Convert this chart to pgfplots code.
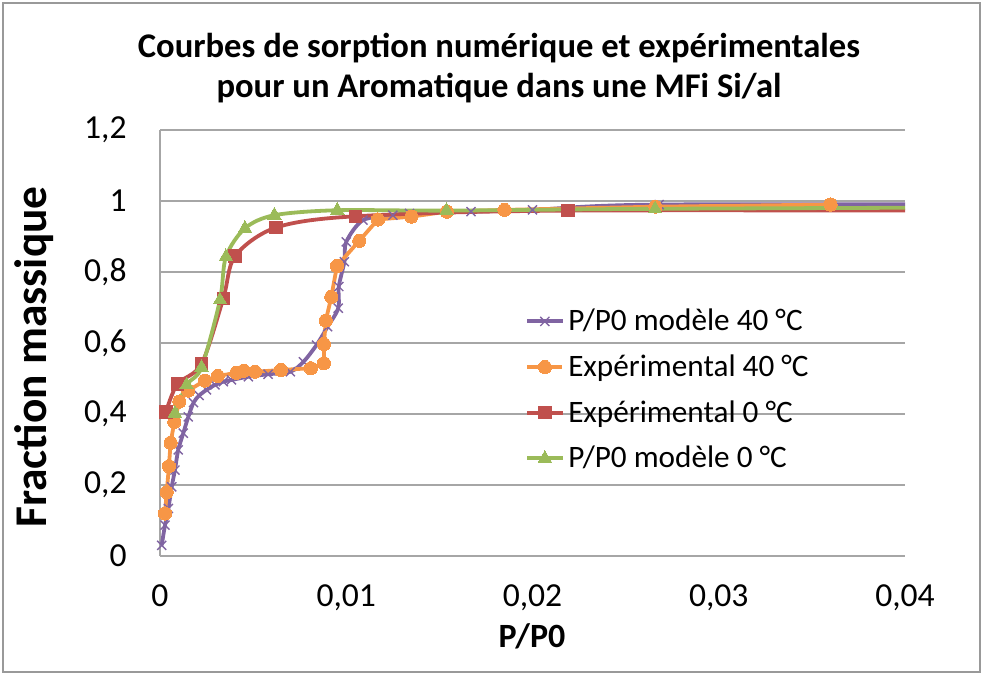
\documentclass[border=0pt]{standalone}
\usepackage{fontspec}
\setmainfont{Carlito}
\usepackage{pgfplots}
\pgfplotsset{compat=1.18}
\definecolor{cpurple}{HTML}{8064A2}
\definecolor{corange}{HTML}{F79646}
\definecolor{cred}{HTML}{C0504D}
\definecolor{cgreen}{HTML}{9BBB59}
\begin{document}
\begin{tikzpicture}
\begin{axis}[
name=ax, at={(0,0)}, anchor=south west,
scale only axis, width=372.5pt, height=213pt,
xmin=0, xmax=0.04, ymin=0, ymax=1.2,
scaled x ticks=false, scaled y ticks=false,
xtick={0,0.01,0.02,0.03,0.04},
xticklabels={0,{0,01},{0,02},{0,03},{0,04}},
ytick={0,0.2,0.4,0.6,0.8,1,1.2},
yticklabels={0,{0,2},{0,4},{0,6},{0,8},1,{1,2}},
major tick length=0pt,
tick label style={font=\fontsize{16.8}{19}\selectfont},
yticklabel style={anchor=east, inner sep=0pt, xshift=-16.5pt},
xticklabel style={anchor=north, inner sep=0pt, yshift=-14pt},
axis lines*=left,
axis line style={-, draw=gray!70, line width=0.6pt},
ymajorgrids,
grid style={gray!70, line width=0.6pt},
legend style={at={(0.49,0.59)}, anchor=north west, draw=none, fill=none,
  inner sep=0pt, font=\fontsize{15.6}{19}\selectfont, row sep=6.5pt},
legend cell align=left,
legend image code/.code={\draw[mark repeat=2,mark phase=2] plot coordinates {(0pt,0pt)(8.75pt,0pt)(17.5pt,0pt)};},
]
% P/P0 modele 40 C
\addplot[cpurple, line width=1.9pt, smooth, mark=x, mark size=3.2pt,
  mark options={line width=0.7pt}] coordinates {
(0.00009,0.03) (0.00027,0.087) (0.00045,0.134) (0.00063,0.195) (0.0008,0.242)
(0.00098,0.299) (0.00125,0.346) (0.00152,0.392) (0.0018,0.432) (0.0021,0.452)
(0.0025,0.468) (0.00295,0.482) (0.0034,0.491) (0.00384,0.496) (0.00474,0.505)
(0.0058,0.512) (0.0070,0.519) (0.0077,0.547) (0.0084,0.594) (0.0090,0.646)
(0.00957,0.698) (0.0096,0.759) (0.0099,0.829) (0.0100,0.885) (0.0109,0.946)
(0.0125,0.96) (0.0134,0.965) (0.0167,0.970) (0.0200,0.975) (0.0268,0.99) (0.05,0.99)};
\addlegendentry{P/P0 modèle 40 °C}
% Experimental 40 C
\addplot[corange, line width=1.9pt, mark=*, mark size=3.3pt,
  mark options={fill=corange, draw=corange, line width=0pt}] coordinates {
(0.00027,0.12) (0.00036,0.18) (0.00048,0.253) (0.00057,0.319) (0.00077,0.378)
(0.00104,0.435) (0.00152,0.466) (0.0024,0.494) (0.0031,0.507) (0.0041,0.516)
(0.0045,0.522) (0.0051,0.519) (0.0065,0.524) (0.0081,0.529) (0.0088,0.543)
(0.0088,0.597) (0.0089,0.663) (0.0092,0.73) (0.0095,0.817) (0.0107,0.888)
(0.0117,0.948) (0.0135,0.956) (0.0154,0.97) (0.0185,0.975) (0.0266,0.984) (0.036,0.99)};
\addlegendentry{Expérimental 40 °C}
% Experimental 0 C
\addplot[cred, line width=1.9pt, smooth, mark=square*, mark size=3.1pt,
  mark options={fill=cred, draw=cred, line width=0pt}] coordinates {
(0.00032,0.406) (0.00093,0.484) (0.00223,0.541) (0.0034,0.726) (0.00403,0.845)
(0.00622,0.925) (0.0105,0.957) (0.0219,0.973) (0.05,0.972)};
\addlegendentry{Expérimental 0 °C}
% P/P0 modele 0 C
\addplot[cgreen, line width=1.9pt, smooth, mark=triangle*, mark size=3.9pt,
  mark options={fill=cgreen, draw=cgreen, line width=0pt}] coordinates {
(0.0008,0.402) (0.00143,0.482) (0.00223,0.531) (0.00322,0.721) (0.00354,0.843)
(0.00456,0.923) (0.00614,0.96) (0.00952,0.974) (0.01538,0.973) (0.02658,0.978) (0.05,0.983)};
\addlegendentry{P/P0 modèle 0 °C}
\end{axis}
\node[font=\bfseries\fontsize{17.3}{20}\selectfont, align=center] at (169.5pt,244pt)
  {Courbes de sorption numérique et expérimentales\\pour un Aromatique dans une MFi Si/al};
\node[font=\bfseries\fontsize{22.7}{26}\selectfont, rotate=90] at (-63pt,99.5pt) {Fraction massique};
\node[font=\bfseries\fontsize{17}{20}\selectfont] at (186pt,-40pt) {P/P0};
\draw[gray!80, line width=0.6pt] (-78.5pt,-58pt) rectangle (410pt,276.5pt);
\pgfresetboundingbox
\useasboundingbox (-80pt,-60pt) rectangle (412pt,278pt);
\end{tikzpicture}
\end{document}
